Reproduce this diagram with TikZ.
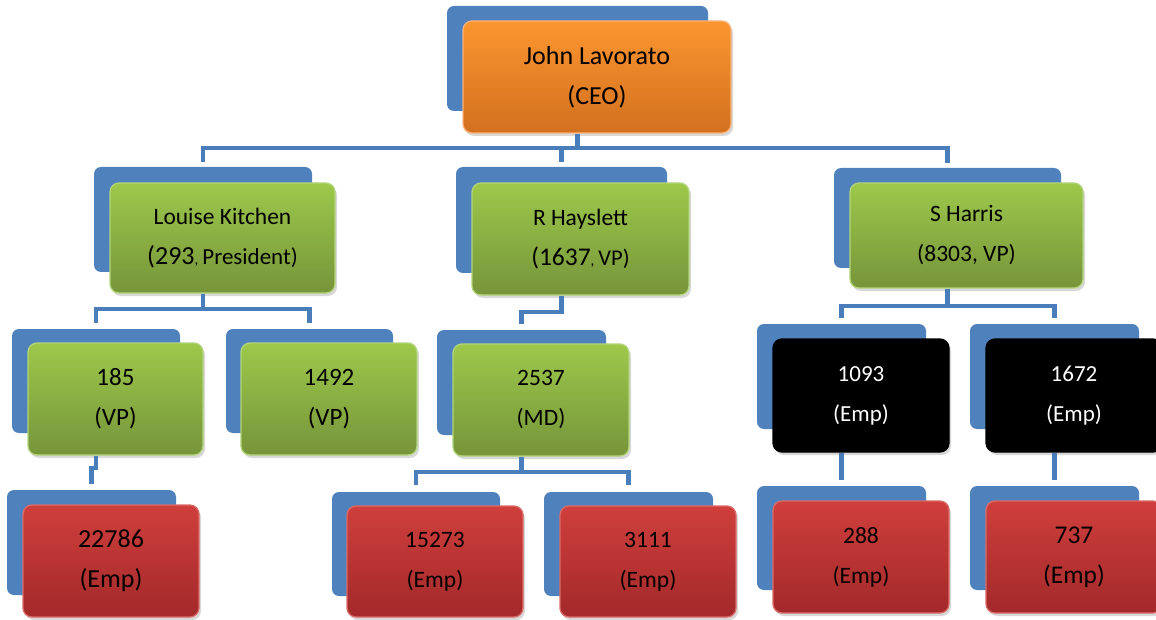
\documentclass[tikz,border=0pt]{standalone}
\usepackage{fontspec}
\setmainfont{Carlito}
\usetikzlibrary{shadows,calc}
\definecolor{backblue}{HTML}{4F81BD}
\definecolor{connblue}{HTML}{4A7EBA}
\definecolor{gtop}{HTML}{9DC84B}
\definecolor{gbot}{HTML}{76953A}
\definecolor{gbord}{HTML}{B2D47A}
\definecolor{otop}{HTML}{FB962F}
\definecolor{obot}{HTML}{D2701F}
\definecolor{obord}{HTML}{F9B27A}
\definecolor{rtop}{HTML}{CF3F3C}
\definecolor{rbot}{HTML}{A3292A}
\definecolor{rbord}{HTML}{DB6B68}
\newcommand{\fsz}[1]{\fontsize{#1}{40}\selectfont}
\tikzset{
  backbox/.style={fill=backblue, rounded corners=7pt, inner sep=0pt},
  frontbase/.style={rounded corners=9pt, inner sep=0pt, align=center, line width=1.3pt,
    drop shadow={shadow xshift=2pt, shadow yshift=-3pt, opacity=0.3}},
  greenbox/.style={frontbase, top color=gtop, bottom color=gbot, draw=gbord},
  orangebox/.style={frontbase, top color=otop, bottom color=obot, draw=obord},
  redbox/.style={frontbase, top color=rtop, bottom color=rbot, draw=rbord},
  blackbox/.style={frontbase, fill=black, draw=black, text=white},
  conn/.style={draw=connblue, line width=4.6pt}
}
\begin{document}
\begin{tikzpicture}[x=1pt,y=-1pt]
\fill[white] (0,0) rectangle (1156,620);
\useasboundingbox (0,0) rectangle (1156,620);
% CEO
\node[backbox, minimum width=261pt, minimum height=105pt] (ceoB) at (577.5,58.5) {};
\node[orangebox, minimum width=268pt, minimum height=112pt, font=\fsz{26}] (ceoF) at (597,77) {John Lavorato\\(CEO)};
% level 2
\node[backbox, minimum width=218pt, minimum height=105pt] (lkB) at (203,219.5) {};
\node[greenbox, minimum width=225pt, minimum height=110pt, font=\fsz{23.5}] (lkF) at (222.5,238) {Louise Kitchen\\{\fsz{26}(293}{\fsz{15},}\kern4pt{\fsz{23}President)}};
\node[backbox, minimum width=211pt, minimum height=106pt] (rhB) at (561.5,220) {};
\node[greenbox, minimum width=217pt, minimum height=112pt, font=\fsz{23.5}] (rhF) at (580.5,239) {R Hayslett\\{\fsz{25.5}(1637}{\fsz{15},}\kern4pt{\fsz{22.5}VP)}};
\node[backbox, minimum width=227pt, minimum height=100pt] (shB) at (947.5,218) {};
\node[greenbox, minimum width=233pt, minimum height=105pt, font=\fsz{23.5}] (shF) at (966.5,235.5) {S Harris\\(8303, VP)};
% level 3
\node[backbox, minimum width=168pt, minimum height=104pt] (aB) at (96,381) {};
\node[greenbox, minimum width=175pt, minimum height=112pt, font=\fsz{25}] (aF) at (115.5,399) {185\\(VP)};
\node[backbox, minimum width=167pt, minimum height=104pt] (bB) at (309.5,381) {};
\node[greenbox, minimum width=176pt, minimum height=112pt, font=\fsz{25}] (bF) at (329,399) {1492\\(VP)};
\node[backbox, minimum width=169pt, minimum height=105pt] (cB) at (521.5,382.5) {};
\node[greenbox, minimum width=176pt, minimum height=112pt, font=\fsz{23.5}] (cF) at (541,400) {2537\\(MD)};
\node[backbox, minimum width=169pt, minimum height=105pt] (dB) at (841.5,376.5) {};
\node[blackbox, minimum width=176pt, minimum height=113pt, font=\fsz{23}] (dF) at (861,395.5) {1093\\(Emp)};
\node[backbox, minimum width=169pt, minimum height=105pt] (eB) at (1054.5,376.5) {};
\node[blackbox, minimum width=176pt, minimum height=113pt, font=\fsz{23}] (eF) at (1074,395.5) {1672\\(Emp)};
% level 4
\node[backbox, minimum width=169pt, minimum height=105pt] (fB) at (91.5,542.5) {};
\node[redbox, minimum width=176pt, minimum height=112pt, font=\fsz{26}] (fF) at (111,561) {22786\\(Emp)};
\node[backbox, minimum width=168pt, minimum height=104pt] (gB) at (416,544) {};
\node[redbox, minimum width=176pt, minimum height=111pt, font=\fsz{23.5}] (gF) at (435,561.5) {15273\\(Emp)};
\node[backbox, minimum width=169pt, minimum height=104pt] (hB) at (628.5,544) {};
\node[redbox, minimum width=176pt, minimum height=111pt, font=\fsz{23.5}] (hF) at (648,561.5) {3111\\(Emp)};
\node[backbox, minimum width=169pt, minimum height=104pt] (iB) at (841.5,538) {};
\node[redbox, minimum width=176pt, minimum height=112pt, font=\fsz{23.5}] (iF) at (861,557) {288\\(Emp)};
\node[backbox, minimum width=169pt, minimum height=104pt] (jB) at (1054.5,538) {};
\node[redbox, minimum width=176pt, minimum height=112pt, font=\fsz{25.5}] (jF) at (1074,557) {737\\(Emp)};
% bar levels
\coordinate (bar1) at (0,148);
\coordinate (bar2) at (0,309);
\coordinate (bar3) at (0,312);
\coordinate (bar4) at (0,306);
\coordinate (bar5) at (0,468);
\coordinate (bar6) at (0,472);
% connectors
\draw[conn] (ceoB |- ceoF.south) -- (ceoB |- bar1) -| ($(lkB.north)+(0,-5)$);
\draw[conn] (ceoB |- bar1) -| ($(rhB.north)+(0,-5)$);
\draw[conn] (ceoB |- bar1) -| ($(shB.north)+(0,-5)$);
\draw[conn] (lkB |- lkF.south) -- (lkB |- bar2) -| ($(aB.north)+(0,-6)$);
\draw[conn] (lkB |- bar2) -| ($(bB.north)+(0,-6)$);
\draw[conn] (rhB |- rhF.south) -- (rhB |- bar3) -| ($(cB.north)+(0,-6)$);
\draw[conn] (shB |- shF.south) -- (shB |- bar4) -| ($(dB.north)+(0,-6)$);
\draw[conn] (shB |- bar4) -| ($(eB.north)+(0,-6)$);
\draw[conn] (aB |- aF.south) -- (aB |- bar5) -| ($(fB.north)+(0,-6)$);
\draw[conn] (cB |- cF.south) -- (cB |- bar6) -| ($(gB.north)+(0,-7)$);
\draw[conn] (cB |- bar6) -| ($(hB.north)+(0,-7)$);
\draw[conn] (dB |- dF.south) -- ($(iB.north)+(0,-6)$);
\draw[conn] (eB |- eF.south) -- ($(jB.north)+(0,-6)$);
\end{tikzpicture}
\end{document}
